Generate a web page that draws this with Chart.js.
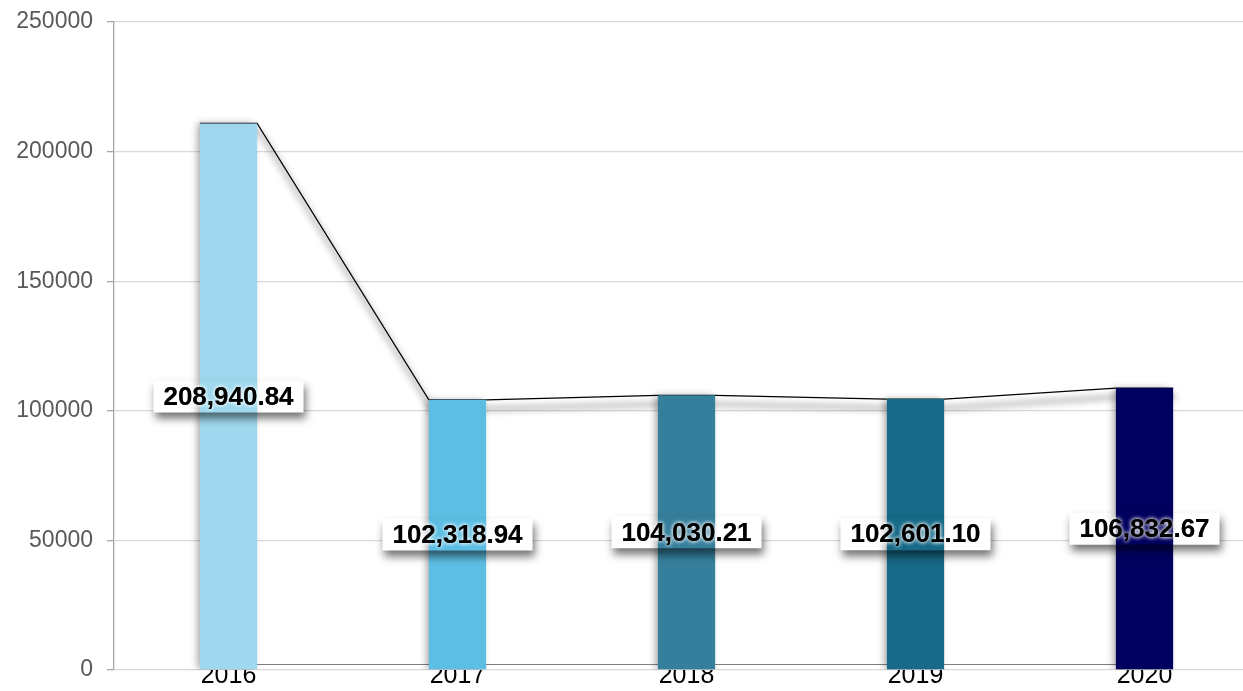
<!DOCTYPE html>
<html lang="en">
<head>
<meta charset="UTF-8" />
<title>2016-2020</title>
<script src="https://cdn.jsdelivr.net/npm/chart.js"></script>
<style>
    html, body { margin: 0; padding: 0; background: #fff; overflow: hidden; }
    .chart-box { width: 1260px; height: 691px; position: relative; }
</style>
</head>
<body>
<div class="chart-box"><canvas id="chart"></canvas></div>
<script>
// Data
const years = ["2016", "2017", "2018", "2019", "2020"];
const amounts = [208940.84, 102318.94, 104030.21, 102601.10, 106832.67];
const barColors = ["#9fd8ee", "#5dbee3", "#367f9c", "#176a88", "#00005e"];
const yTicks = [0, 50000, 100000, 150000, 200000, 250000];

const FONT = "'Liberation Sans', Arial, sans-serif";
const DEPTH = 5;          // fake 3D lift, px
const BAR_FRAC = 0.25;    // bar width as a share of a category

// line points sit on the bar edges so the line runs corner to corner
const topLine = [];
years.forEach((y, i) => {
    topLine.push({ x: i - BAR_FRAC / 2, y: amounts[i] });
    topLine.push({ x: i + BAR_FRAC / 2, y: amounts[i] });
});
const floorLine = years.map((y, i) => ({ x: i, y: 0 }));

function fmt(v) {
    return v.toLocaleString("en-US", { minimumFractionDigits: 2, maximumFractionDigits: 2 });
}

// lift the bars a bit, keep their feet on the axis
const liftPlugin = {
    id: "lift",
    afterDatasetsUpdate(chart) {
        const meta = chart.getDatasetMeta(0);
        meta.data.forEach((el) => {
            el.y -= DEPTH;
        });
    },
    beforeDatasetDraw(chart, args) {
        const ds = chart.data.datasets[args.index];
        const ctx = chart.ctx;
        ctx.save();
        if (ds.kind === "bar") {
            ctx.shadowColor = "rgba(0,0,0,0.35)";
            ctx.shadowBlur = 7;
            ctx.shadowOffsetX = -3;
        } else if (ds.kind === "shade") {
            ctx.translate(3, 9 - DEPTH);
            ctx.filter = "blur(3px)";
        } else {
            ctx.translate(0, -DEPTH);
        }
    },
    afterDatasetDraw(chart) {
        chart.ctx.restore();
    }
};

// value boxes in the middle of each bar
function labelBoxes(chart) {
    const ctx = chart.ctx;
    const meta = chart.getDatasetMeta(0);
    ctx.font = "bold 26px " + FONT;
    return meta.data.map((el, i) => {
        const text = fmt(amounts[i]);
        const w = ctx.measureText(text).width + 20;
        const h = 32;
        const cy = (el.y + el.base) / 2;
        return { text, x: el.x - w / 2, y: cy - h / 2, w, h, cx: el.x, cy };
    });
}

const labelPlugin = {
    id: "valueLabels",
    beforeDatasetsDraw(chart) {
        const ctx = chart.ctx;
        ctx.save();
        ctx.fillStyle = "#ffffff";
        labelBoxes(chart).forEach((b) => ctx.fillRect(b.x, b.y, b.w, b.h));
        ctx.restore();
    },
    afterDatasetsDraw(chart) {
        const ctx = chart.ctx;
        const boxes = labelBoxes(chart);
        boxes.forEach((b) => {
            ctx.save();
            ctx.beginPath();
            ctx.rect(0, 0, chart.width, chart.height);
            ctx.rect(b.x, b.y, b.w, b.h);
            ctx.clip("evenodd");
            ctx.filter = "blur(4px)";
            ctx.fillStyle = "rgba(0,0,0,0.55)";
            ctx.fillRect(b.x + 2, b.y + 6, b.w, b.h);
            ctx.restore();
        });
        ctx.save();
        ctx.font = "bold 26px " + FONT;
        ctx.textAlign = "center";
        ctx.textBaseline = "middle";
        boxes.forEach((b) => {
            ctx.shadowColor = "rgba(255,255,255,0.9)";
            ctx.shadowBlur = 4;
            ctx.fillStyle = "#000000";
            ctx.fillText(b.text, b.cx, b.cy + 1);
            ctx.fillText(b.text, b.cx, b.cy + 1);
        });
        ctx.restore();
    }
};

const ctx = document.getElementById("chart").getContext("2d");
new Chart(ctx, {
    type: "bar",
    data: {
        labels: years,
        datasets: [
            {
                kind: "bar",
                data: amounts,
                backgroundColor: barColors,
                borderWidth: 0,
                barPercentage: BAR_FRAC,
                categoryPercentage: 1,
                grouped: false,
                order: 0
            },
            {
                kind: "line",
                type: "line",
                data: topLine,
                xAxisID: "x2",
                borderColor: "#000000",
                borderWidth: 1.2,
                pointRadius: 0,
                tension: 0,
                order: 1
            },
            {
                kind: "shade",
                type: "line",
                data: topLine,
                xAxisID: "x2",
                borderColor: "rgba(0,0,0,0.22)",
                borderWidth: 6,
                pointRadius: 0,
                tension: 0,
                order: 2
            },
            {
                kind: "line",
                type: "line",
                data: floorLine,
                xAxisID: "x2",
                borderColor: "#000000",
                borderWidth: 1.2,
                pointRadius: 0,
                tension: 0,
                order: 3
            }
        ]
    },
    options: {
        responsive: true,
        maintainAspectRatio: false,
        animation: false,
        events: [],
        layout: { padding: { top: 22, right: 1, left: 0, bottom: 0 } },
        plugins: {
            legend: { display: false },
            tooltip: { enabled: false }
        },
        scales: {
            x: {
                z: 1,
                offset: true,
                grid: { display: false, drawTicks: false },
                border: { display: false },
                ticks: {
                    color: "#000000",
                    font: { family: FONT, size: 25 },
                    padding: -9,
                    maxRotation: 0
                },
                afterFit(scale) { scale.height = 21; }
            },
            x2: {
                type: "linear",
                display: false,
                offset: false,
                grid: { offset: false },
                min: -0.5,
                max: years.length - 0.5
            },
            y: {
                min: 0,
                max: 250000,
                afterBuildTicks(scale) {
                    scale.ticks = yTicks.map((v) => ({ value: v }));
                },
                ticks: {
                    color: "#595959",
                    font: { family: FONT, size: 23, lineHeight: 0.3 },
                    padding: 14,
                    callback: (v) => String(v)
                },
                grid: {
                    color: "#d9d9d9",
                    lineWidth: 1.3,
                    tickLength: 7,
                    tickColor: "#a6a6a6"
                },
                border: { color: "#a6a6a6", width: 1.3 },
                afterFit(scale) { scale.width = 114; }
            }
        }
    },
    plugins: [liftPlugin, labelPlugin]
});
</script>
</body>
</html>
